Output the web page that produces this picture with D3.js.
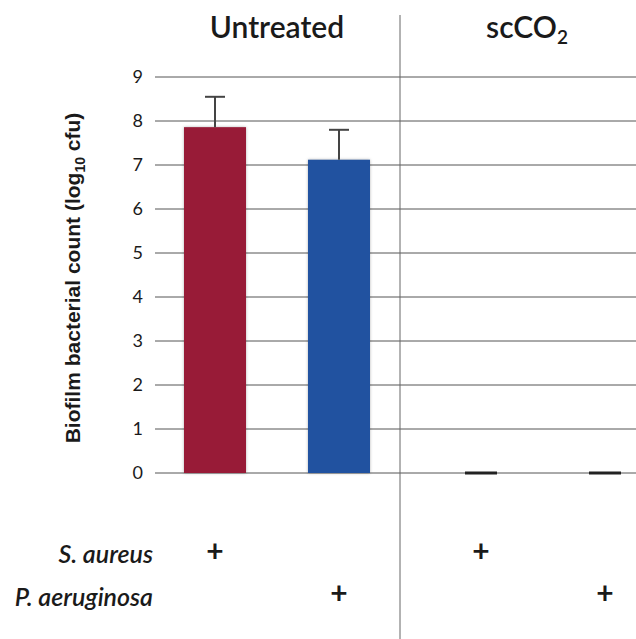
<!DOCTYPE html>
<html>
<head>
<meta charset="utf-8">
<script src="https://cdn.jsdelivr.net/npm/d3@7"></script>
<style>
  body { margin: 0; background: #fff; }
  text { font-family: Lato, "Open Sans", sans-serif; fill: #1a1a1a; }
</style>
</head>
<body>
<script>
const groups = ["Untreated", "scCO2"];
const strains = ["S. aureus", "P. aeruginosa"];
const untreatedMeans = [7.86, 7.12];
const untreatedErrors = [0.69, 0.68];
const scco2Means = [0, 0];
const scco2Errors = [0, 0];
const yTicks = [0, 1, 2, 3, 4, 5, 6, 7, 8, 9];
const strainColors = ["#981b37", "#2152a0"];

const data = [];
groups.forEach((g, gi) => {
  strains.forEach((s, si) => {
    data.push({
      group: g,
      strain: s,
      mean: gi === 0 ? untreatedMeans[si] : scco2Means[si],
      error: gi === 0 ? untreatedErrors[si] : scco2Errors[si]
    });
  });
});

const width = 636, height = 639;
const plotLeft = 155, plotRight = 636, split = 400;

const svg = d3.select("body").append("svg")
    .attr("width", width)
    .attr("height", height);

const xGroup = d3.scalePoint()
    .domain(groups)
    .range([215, 481]);

const xStrain = d3.scalePoint()
    .domain(strains)
    .range([0, 124]);

const xPos = d => xGroup(d.group) + xStrain(d.strain);

const y = d3.scaleLinear()
    .domain([0, 9])
    .range([473, 77]);

const color = d3.scaleOrdinal()
    .domain(strains)
    .range(strainColors);

// gridlines
svg.append("g")
  .selectAll("line")
  .data(yTicks)
  .enter().append("line")
    .attr("x1", plotLeft)
    .attr("x2", plotRight)
    .attr("y1", d => y(d))
    .attr("y2", d => y(d))
    .attr("stroke", "#555")
    .attr("stroke-width", 1);

// tick labels
svg.append("g")
  .selectAll("text")
  .data(yTicks)
  .enter().append("text")
    .attr("x", 143)
    .attr("y", d => y(d))
    .attr("dy", "0.36em")
    .attr("text-anchor", "end")
    .style("font-size", "18px")
    .text(d => d);

// panel divider
svg.append("line")
    .attr("x1", split).attr("x2", split)
    .attr("y1", 15).attr("y2", height)
    .attr("stroke", "#666")
    .attr("stroke-width", 1);

// bars (zero values drawn as a short dash)
const barW = 62, dashW = 32;
svg.append("g")
  .selectAll("rect")
  .data(data)
  .enter().append("rect")
    .attr("x", d => xPos(d) - (d.mean > 0 ? barW : dashW) / 2)
    .attr("width", d => d.mean > 0 ? barW : dashW)
    .attr("y", d => d.mean > 0 ? y(d.mean) : y(0) - 1.5)
    .attr("height", d => d.mean > 0 ? y(0) - y(d.mean) : 3)
    .attr("fill", d => d.mean > 0 ? color(d.strain) : "#222")
    .style("filter", d => d.mean > 0 ? "drop-shadow(0 0 1.5px rgba(0,0,0,0.3))" : null);

// error bars (upper only)
const err = svg.append("g")
  .selectAll("g")
  .data(data.filter(d => d.error > 0))
  .enter().append("g")
    .attr("stroke", "#444")
    .attr("stroke-width", 2);

err.append("line")
    .attr("x1", xPos).attr("x2", xPos)
    .attr("y1", d => y(d.mean))
    .attr("y2", d => y(d.mean + d.error));

err.append("line")
    .attr("x1", d => xPos(d) - 10).attr("x2", d => xPos(d) + 10)
    .attr("y1", d => y(d.mean + d.error))
    .attr("y2", d => y(d.mean + d.error));

// panel titles
svg.append("text")
    .attr("x", 277).attr("y", 38)
    .attr("text-anchor", "middle")
    .style("font-size", "30px")
    .style("font-weight", 600)
    .text("Untreated");

const t2 = svg.append("text")
    .attr("x", 527).attr("y", 38)
    .attr("text-anchor", "middle")
    .style("font-size", "30px")
    .style("font-weight", 600);
t2.append("tspan").text("scCO");
t2.append("tspan").attr("dy", 6).style("font-size", "19px").text("2");

// y axis label
const yl = svg.append("text")
    .attr("transform", `translate(80,278) rotate(-90)`)
    .attr("text-anchor", "middle")
    .style("font-family", "'Liberation Sans', Arial, sans-serif")
    .style("font-size", "21px")
    .style("font-weight", "bold");
yl.append("tspan").text("Biofilm bacterial count (log");
yl.append("tspan").attr("dy", 5).style("font-size", "14px").text("10");
yl.append("tspan").attr("dy", -5).text(" cfu)");

// strain rows
const rowY = { "S. aureus": 563, "P. aeruginosa": 606 };
const plusY = { "S. aureus": 551, "P. aeruginosa": 593 };

svg.append("g")
  .selectAll("text")
  .data(strains)
  .enter().append("text")
    .attr("x", 153)
    .attr("y", d => rowY[d])
    .attr("text-anchor", "end")
    .style("font-size", "25px")
    .style("font-style", "italic")
    .style("font-weight", 600)
    .text(d => d);

svg.append("g")
  .selectAll("text")
  .data(data)
  .enter().append("text")
    .attr("x", xPos)
    .attr("y", d => plusY[d.strain])
    .attr("dy", "0.35em")
    .attr("text-anchor", "middle")
    .style("font-size", "30px")
    .style("font-weight", "bold")
    .text("+");
</script>
</body>
</html>
